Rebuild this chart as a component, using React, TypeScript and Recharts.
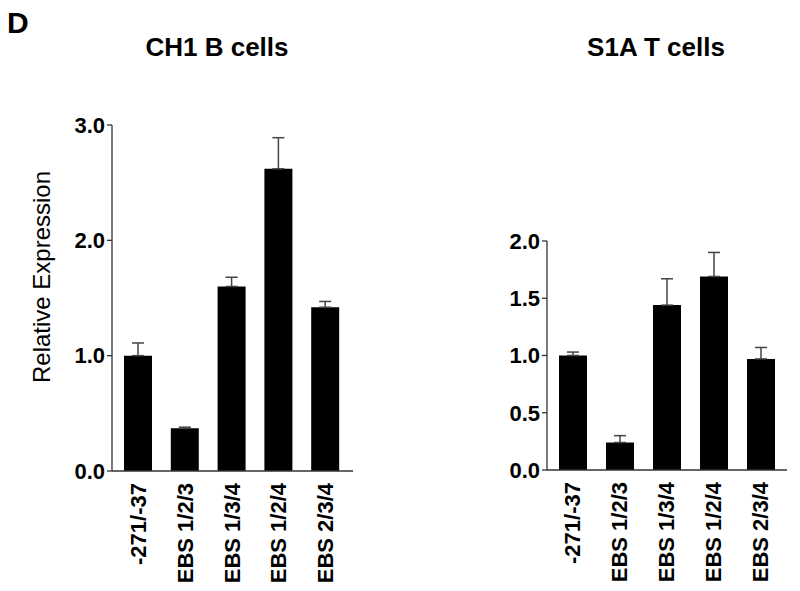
import { BarChart, Bar, XAxis, YAxis, ErrorBar } from "recharts";

// bar categories (same for both panels)
const categories = ["-271/-37", "EBS 1/2/3", "EBS 1/3/4", "EBS 1/2/4", "EBS 2/3/4"];

// CH1 B cells
const ch1Values = [1.0, 0.37, 1.6, 2.62, 1.42];
const ch1Errors = [0.11, 0.01, 0.08, 0.27, 0.05];
const ch1Ticks = [0, 1, 2, 3];

// S1A T cells
const s1aValues = [1.0, 0.24, 1.44, 1.69, 0.97];
const s1aErrors = [0.03, 0.06, 0.23, 0.21, 0.1];
const s1aTicks = [0, 0.5, 1, 1.5, 2];

const FONT = "'Liberation Sans', Arial, Helvetica, sans-serif";
const AXIS = "#333";

const rows = (values: number[], errors: number[]) =>
  categories.map((name, i) => ({ name, value: values[i], err: [0, errors[i]] }));

function XTick({ x, y, payload }: any) {
  return (
    <text
      x={x}
      y={y}
      transform={`rotate(-90 ${x} ${y})`}
      textAnchor="end"
      dominantBaseline="central"
      fontFamily={FONT}
      fontWeight="bold"
      fontSize={22}
      fill="#000"
    >
      {payload.value}
    </text>
  );
}

interface PanelProps {
  data: { name: string; value: number; err: number[] }[];
  ticks: number[];
  left: number;
  axisWidth: number;
  margin: { top: number; right: number; bottom: number; left: number };
  padding: { left: number; right: number };
}

function Panel({ data, ticks, left, axisWidth, margin, padding }: PanelProps) {
  return (
    <div style={{ position: "absolute", left, top: 0 }}>
      <BarChart width={400} height={591} data={data} margin={margin} barSize={28}>
        <XAxis
          dataKey="name"
          height={100}
          tick={<XTick />}
          tickLine={false}
          tickSize={0}
          tickMargin={12}
          interval={0}
          padding={padding}
          axisLine={{ stroke: AXIS, strokeWidth: 1.3 }}
        />
        <YAxis
          width={axisWidth}
          domain={[ticks[0], ticks[ticks.length - 1]]}
          ticks={ticks}
          tickFormatter={(v: number) => v.toFixed(1)}
          tickSize={5}
          tickMargin={2}
          tick={{ fontFamily: FONT, fontWeight: "bold", fontSize: 22, fill: "#000" }}
          tickLine={{ stroke: AXIS, strokeWidth: 1.3 }}
          axisLine={{ stroke: AXIS, strokeWidth: 1.3 }}
        />
        <Bar dataKey="value" fill="#000" isAnimationActive={false}>
          <ErrorBar dataKey="err" width={6} stroke="#444" strokeWidth={1.5} direction="y" />
        </Bar>
      </BarChart>
    </div>
  );
}

export default function App() {
  return (
    <div
      style={{
        position: "absolute",
        left: 0,
        top: 0,
        width: 800,
        height: 591,
        background: "#fff",
        overflow: "hidden",
      }}
    >
      <Panel
        data={rows(ch1Values, ch1Errors)}
        ticks={ch1Ticks}
        left={0}
        axisWidth={112}
        margin={{ top: 125, right: 47, bottom: 20, left: 0 }}
        padding={{ left: 3, right: 4 }}
      />
      <Panel
        data={rows(s1aValues, s1aErrors)}
        ticks={s1aTicks}
        left={400}
        axisWidth={147}
        margin={{ top: 241, right: 13, bottom: 21, left: 0 }}
        padding={{ left: 2, right: 3 }}
      />
      <svg
        width={800}
        height={591}
        style={{ position: "absolute", left: 0, top: 0, pointerEvents: "none" }}
        fontFamily={FONT}
      >
        <text x={7} y={33} fontSize={30} fontWeight="bold">D</text>
        <text x={217} y={56} fontSize={26} fontWeight="bold" textAnchor="middle">CH1 B cells</text>
        <text x={656} y={56} fontSize={26} fontWeight="bold" textAnchor="middle">S1A T cells</text>
        <text
          x={41}
          y={277}
          fontSize={24}
          textAnchor="middle"
          dominantBaseline="central"
          transform="rotate(-90 41 277)"
        >
          Relative Expression
        </text>
      </svg>
    </div>
  );
}
